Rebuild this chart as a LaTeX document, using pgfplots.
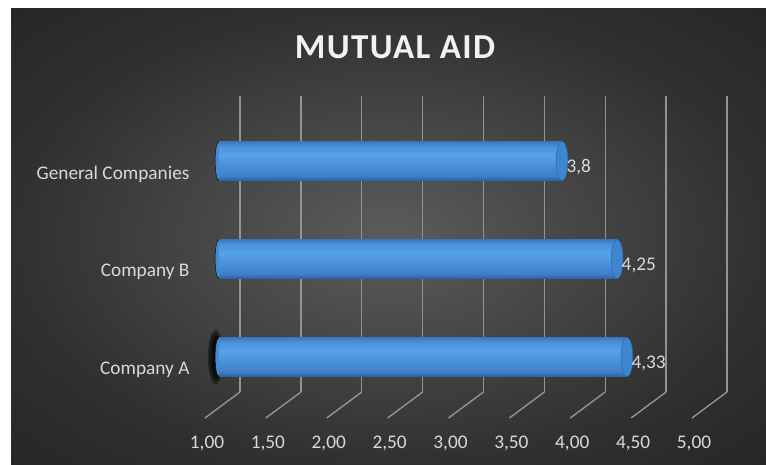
\documentclass[border=0pt]{standalone}
\usepackage{pgfplots}
\usepackage{pgfplotstable}
\pgfplotsset{compat=1.18}
\usepackage{fontspec}
\setmainfont{Carlito}
\definecolor{gridc}{HTML}{939393}
\definecolor{txt}{HTML}{D9D9D9}
\definecolor{titlec}{HTML}{F2F2F2}
\definecolor{bgc}{HTML}{5C5C5C}
\definecolor{bgm}{HTML}{303030}
\definecolor{bge}{HTML}{262626}
\definecolor{cb}{HTML}{2A62A4}
\definecolor{cm1}{HTML}{3E7FC8}
\definecolor{cm2}{HTML}{4A90DA}
\definecolor{cl}{HTML}{56A1E8}
\definecolor{cm3}{HTML}{4B92DD}
\definecolor{ct}{HTML}{3A77BF}
\definecolor{capc}{HTML}{3F86D0}
\definecolor{capedge}{HTML}{2E6AB0}
\definecolor{barleft}{HTML}{4589D2}
\pgfdeclareradialshading{bgshade}{\pgfpoint{0bp}{0bp}}{color(0bp)=(bgc); color(25bp)=(bgm); color(36bp)=(bge); color(50bp)=(bge)}
\pgfdeclareverticalshading{cyl}{100bp}{color(0bp)=(cb); color(25bp)=(cb); color(31bp)=(cm1); color(44bp)=(cm2); color(58bp)=(cl); color(69bp)=(cm3); color(75bp)=(ct); color(100bp)=(ct)}
\newcommand\tfont{\fontsize{19.3bp}{23bp}\selectfont}
\pgfplotstableread{
y val one
0 4.33 1
1 4.25 1
2 3.8 1
}\datatable
\begin{document}
\begin{tikzpicture}
\useasboundingbox (0,0) rectangle (766bp,465bp);
\fill[white] (0,0) rectangle (766bp,465bp);
\shade[shading=bgshade] (11bp,0) rectangle (766bp,456bp);
\node[font=\fontsize{35bp}{40bp}\selectfont\bfseries\addfontfeatures{LetterSpace=4}, text=titlec] at (395bp,418bp) {MUTUAL AID};

\begin{axis}[at={(240bp,73bp)}, anchor=south west, scale only axis,
  width=487bp, height=296bp, xmin=1, xmax=5, ymin=0, ymax=1,
  axis line style={draw=none}, major tick length=0pt,
  xtick={1,1.5,...,5}, ytick=\empty, xmajorgrids,
  grid style={gridc, line width=1.4bp},
  xticklabel style={font=\tfont, text=txt, xshift=-33bp, yshift=-40bp},
  clip=false,
  /pgf/number format/.cd, fixed, fixed zerofill, precision=2, use comma, assume math mode=true]
\pgfplotsinvokeforeach{1,1.5,2,2.5,3,3.5,4,4.5,5}{\draw[gridc, line width=1.4bp] (axis cs:#1,0) -- ++(-35bp,-26bp);}
\addplot[only marks, mark=*, mark size=27bp, mark options={xscale=0.28, draw=none, fill=black, opacity=0.3}] coordinates {(0.80,0.118)};
\addplot[only marks, mark=*, mark size=24bp, mark options={xscale=0.26, draw=none, fill=black, opacity=0.4}] coordinates {(0.80,0.118)};
\addplot[only marks, mark=*, mark size=21bp, mark options={xscale=0.24, draw=none, fill=black, opacity=0.5}] coordinates {(0.81,0.118)};
\end{axis}

\begin{axis}[at={(219bp,59bp)}, anchor=south west, scale only axis,
  width=490bp, height=294bp, xmin=1, xmax=5, ymin=-0.5, ymax=2.5,
  axis line style={draw=none}, major tick length=0pt,
  xtick=\empty, ytick={0,1,2},
  yticklabels={Company A,Company B,General Companies},
  yticklabel style={font=\tfont, text=txt, anchor=east, xshift=-26bp, yshift=-13bp},
  clip mode=individual,
  /pgf/number format/.cd, use comma, assume math mode=true]
\addplot[clip=false, only marks, mark=*, mark size=19.5bp, mark options={xscale=0.2, draw=none, fill=barleft}] table[x=one, y=y] {\datatable};
\addplot[xbar, bar shift=0pt, bar width=39bp, draw=none, shade, shading=cyl] coordinates {(4.33,0)};
\addplot[xbar, bar shift=0pt, bar width=39bp, draw=none, shade, shading=cyl] coordinates {(4.25,1)};
\addplot[xbar, bar shift=0pt, bar width=39bp, draw=none, shade, shading=cyl] coordinates {(3.8,2)};
\addplot[only marks, mark=*, mark size=19.5bp, mark options={xscale=0.3, draw=capedge, line width=0.6bp, fill=capc},
  nodes near coords, point meta=x, nodes near coords align=horizontal,
  nodes near coords style={font=\tfont, text=txt, yshift=-6bp, xshift=1bp}] table[x=val, y=y] {\datatable};
\end{axis}
\end{tikzpicture}
\end{document}
